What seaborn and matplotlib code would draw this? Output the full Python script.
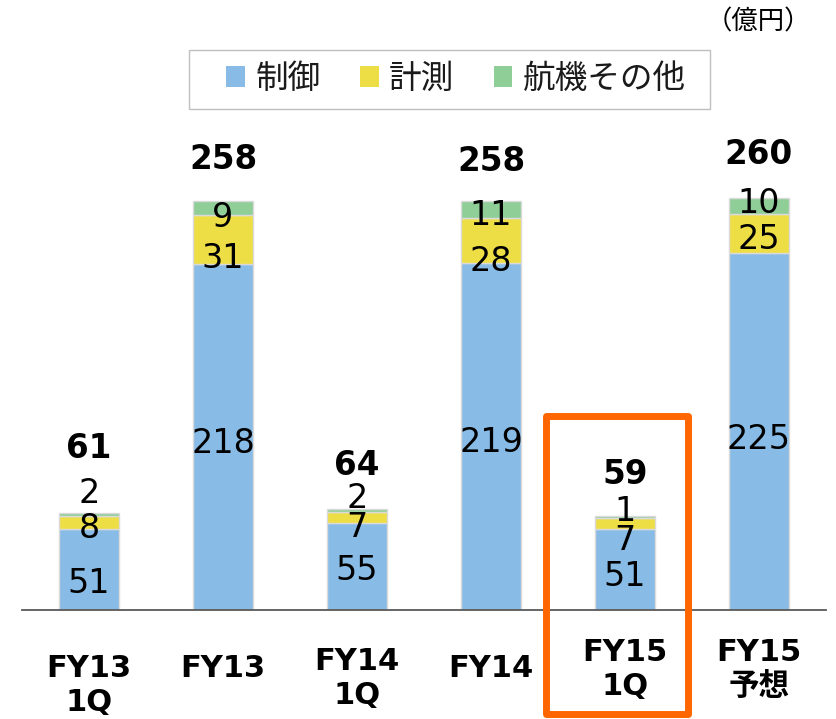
import matplotlib
matplotlib.use("Agg")
import matplotlib.pyplot as plt
import seaborn as sns
import numpy as np
import pandas as pd
from matplotlib.patches import Patch, Rectangle

# ---- data ----
categories = ["FY13\n1Q", "FY13", "FY14\n1Q", "FY14", "FY15\n1Q", "FY15\n予想"]
control = [51, 218, 55, 219, 51, 225]      # 制御
measure = [8, 31, 7, 28, 7, 25]            # 計測
aero = [2, 9, 2, 11, 1, 10]                # 航機その他
totals = [61, 258, 64, 258, 59, 260]
series_names = ["制御", "計測", "航機その他"]
unit_label = "（億円）"

# ---- layout tweaks (pixel offsets of labels, not data) ----
ctrl_off = [10, 3, 1, 3, 3, 4]
meas_off = [2, 15, 7, 17, 13, 3]
aero_off = [-25, 6, -15, 2, -9, -6]
tot_off = [-68, -45, -47, -43, -45, -47]
xlab_off = [67, 67, 60, 67, 51, 51]
xlab_gap = 34

colors = ["#88BCE6", "#EEDE46", "#8FCE97"]

sns.set_theme(style="white")
plt.rcParams["font.family"] = ["DejaVu Sans", "Noto Sans CJK JP"]
plt.rcParams["text.color"] = "black"

W, H = 837, 719
fig = plt.figure(figsize=(W / 100, H / 100), dpi=100)
ax = fig.add_axes([22 / W, (H - 610) / H, 804 / W, 510 / H])

df = pd.DataFrame({"cat": categories, "ctrl": control, "meas": measure, "aero": aero})
b1 = np.array(control)
b2 = b1 + np.array(measure)

bw = 0.455
sns.barplot(data=df, x="cat", y="ctrl", color=colors[0], width=bw, saturation=1,
            edgecolor="#DADADA", linewidth=1, ax=ax, order=categories)
sns.barplot(data=df, x="cat", y="meas", color=colors[1], width=bw, saturation=1,
            edgecolor="#DADADA", linewidth=1, bottom=b1, ax=ax, order=categories)
sns.barplot(data=df, x="cat", y="aero", color=colors[2], width=bw, saturation=1,
            edgecolor="#DADADA", linewidth=1, bottom=b2, ax=ax, order=categories)

ax.set_xlim(-0.5, len(categories) - 0.5)
ax.set_ylim(0, 321.6)
ax.set_xlabel("")
ax.set_ylabel("")
ax.set_yticks([])
for s in ["top", "right", "left"]:
    ax.spines[s].set_visible(False)
ax.spines["bottom"].set_color("#595959")
ax.spines["bottom"].set_linewidth(1.3)
ax.set_xticks(np.arange(len(categories)))
ax.set_xticklabels([])
ax.tick_params(axis="x", which="major", length=0)
ax.set_xticks(np.arange(-0.5, len(categories)), minor=True)
ax.tick_params(axis="x", which="minor", direction="in", length=5, width=1, color="#595959")

lab_kw = dict(fontsize=24, ha="center", va="center_baseline", color="black",
              textcoords="offset pixels", family=["DejaVu Sans"])
for i in range(len(categories)):
    ax.annotate(str(control[i]), (i, control[i] / 2), xytext=(0, -ctrl_off[i]), **lab_kw)
    ax.annotate(str(measure[i]), (i, b1[i] + measure[i] / 2), xytext=(0, -meas_off[i]), **lab_kw)
    ax.annotate(str(aero[i]), (i, b2[i] + aero[i] / 2), xytext=(0, -aero_off[i]), **lab_kw)
    ax.annotate(str(totals[i]), (i, totals[i]), xytext=(0, -tot_off[i]),
                fontsize=23.5, fontweight="bold", ha="center", va="center_baseline",
                textcoords="offset pixels", family=["DejaVu Sans"], annotation_clip=False)
    for j, line in enumerate(categories[i].split("\n")):
        ax.annotate(line, (i, 0), xytext=(0, -(xlab_off[i] + j * xlab_gap)),
                    textcoords="offset pixels", fontsize=22, fontweight="bold",
                    ha="center", va="baseline", color="black",
                    family=["DejaVu Sans", "Noto Sans CJK JP"], annotation_clip=False)

handles = [Patch(facecolor=c, edgecolor="none") for c in colors]
leg = fig.legend(handles, series_names, loc="center", bbox_to_anchor=(456 / W, (H - 79) / H),
                 ncol=3, frameon=False, handlelength=0.58, handleheight=0.58,
                 handletextpad=0.32, columnspacing=1.2, borderpad=0.2,
                 prop={"family": ["Noto Sans CJK JP"], "size": 23.5})
for t in leg.get_texts():
    t.set_color("#1A1A1A")

frame = Rectangle((189 / W, (H - 109) / H), 521 / W, 59 / H, transform=fig.transFigure,
                  fill=False, edgecolor="#BFBFBF", linewidth=1, clip_on=False)
fig.patches.append(frame)

fig.text(811 / W, (H - 22) / H, unit_label, ha="right", va="center", fontsize=19,
         family=["Noto Sans CJK JP"])

rect = Rectangle((546.5 / W, (H - 713.5) / H), 142 / W, 298 / H, transform=fig.transFigure,
                 fill=False, edgecolor="#FF6600", linewidth=5, joinstyle="round", clip_on=False)
fig.patches.append(rect)

fig.savefig("out.png", dpi=100)
